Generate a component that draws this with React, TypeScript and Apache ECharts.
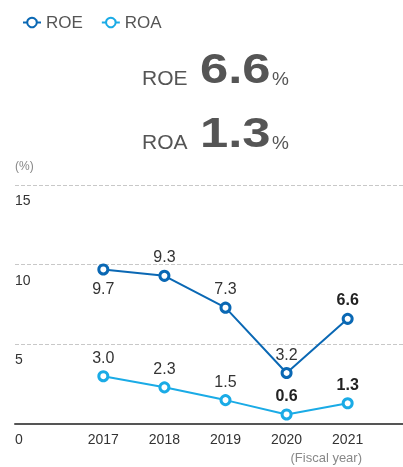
import React, { useEffect, useRef } from "react";
import * as echarts from "echarts";

const years = [2017, 2018, 2019, 2020, 2021];
const roe = [9.7, 9.3, 7.3, 3.2, 6.6];
const roa = [3.0, 2.3, 1.5, 0.6, 1.3];
const roeLabelBelow = [true, false, false, false, false];
const roeBold = [false, false, false, false, true];
const roaBold = [false, false, false, true, true];
const headline = { roe: "6.6", roa: "1.3" };

const ROE_COLOR = "#0a68b4";
const ROA_COLOR = "#1aabe6";
const FONT = "'Liberation Sans', Arial, sans-serif";

export default function App() {
  const ref = useRef<HTMLDivElement>(null);
  useEffect(() => {
    if (!ref.current) return;
    const chart = echarts.init(ref.current, undefined, { renderer: "svg" });
    const mk = (vals: number[], bold: boolean[], below?: boolean[]) =>
      years.map((y, i) => ({
        value: [y, vals[i]],
        label: {
          position: below && below[i] ? "bottom" : "top",
          fontWeight: bold[i] ? "bold" : "normal",
          color: bold[i] ? "#222" : "#333",
        },
      }));
    const labelBase = {
      show: true,
      fontSize: 16,
      fontFamily: FONT,
      formatter: (p: any) => Number(p.value[1]).toFixed(1),
    };
    const big = (text: string, y: number) => ({
      type: "text",
      x: 200,
      y,
      scaleX: 1.18,
      style: { text, fontSize: 43, fontWeight: "bold", fill: "#555", fontFamily: FONT, verticalAlign: "middle" },
    });
    chart.setOption({
      animation: false,
      textStyle: { fontFamily: FONT },
      legend: {
        left: 17,
        top: 9,
        itemWidth: 18,
        itemHeight: 12,
        itemGap: 18,
        textStyle: { fontSize: 17, color: "#555", fontFamily: FONT },
        data: ["ROE", "ROA"],
      },
      grid: { left: 15, right: 0, top: 185, bottom: 43 },
      xAxis: {
        type: "value",
        min: 2015.554,
        max: 2021.906,
        axisLine: { show: true, onZero: false, lineStyle: { color: "#555", width: 2 } },
        axisTick: { show: false },
        splitLine: { show: false },
        axisLabel: {
          customValues: years,
          formatter: (v: number) => String(Math.round(v)),
          fontSize: 14,
          color: "#333",
          margin: 8,
        },
      },
      yAxis: {
        type: "value",
        min: 0,
        max: 15,
        interval: 5,
        axisLine: { show: false },
        axisTick: { show: false },
        splitLine: { show: true, lineStyle: { color: "#c8c8c8", type: "dashed", width: 1 } },
        axisLabel: {
          inside: true,
          align: "left",
          verticalAlign: "top",
          margin: 0,
          padding: [8, 0, 0, 0],
          fontSize: 14,
          color: "#333",
        },
      },
      series: [
        {
          name: "ROE",
          type: "line",
          data: mk(roe, roeBold, roeLabelBelow),
          symbol: "circle",
          symbolSize: 9,
          showAllSymbol: true,
          lineStyle: { color: ROE_COLOR, width: 2 },
          itemStyle: { color: "#fff", borderColor: ROE_COLOR, borderWidth: 3 },
          label: labelBase,
          z: 3,
        },
        {
          name: "ROA",
          type: "line",
          data: mk(roa, roaBold),
          symbol: "circle",
          symbolSize: 9,
          showAllSymbol: true,
          lineStyle: { color: ROA_COLOR, width: 2 },
          itemStyle: { color: "#fff", borderColor: ROA_COLOR, borderWidth: 3 },
          label: labelBase,
          z: 2,
        },
      ],
      graphic: [
        { type: "text", left: 15, top: 160, style: { text: "(%)", fontSize: 12, fill: "#888", fontFamily: FONT } },
        { type: "text", right: 41, top: 451, style: { text: "(Fiscal year)", fontSize: 13, fill: "#888", fontFamily: FONT } },
        { type: "text", x: 142, y: 77, style: { text: "ROE", fontSize: 21, fill: "#555", fontFamily: FONT, verticalAlign: "middle" } },
        big(headline.roe, 68),
        { type: "text", x: 272, y: 78, style: { text: "%", fontSize: 19, fill: "#555", fontFamily: FONT, verticalAlign: "middle" } },
        { type: "text", x: 142, y: 141, style: { text: "ROA", fontSize: 21, fill: "#555", fontFamily: FONT, verticalAlign: "middle" } },
        big(headline.roa, 132),
        { type: "text", x: 272, y: 142, style: { text: "%", fontSize: 19, fill: "#555", fontFamily: FONT, verticalAlign: "middle" } },
      ],
    });
    return () => chart.dispose();
  }, []);
  return <div ref={ref} style={{ position: "fixed", left: 0, top: 0, width: 403, height: 467 }} />;
}
